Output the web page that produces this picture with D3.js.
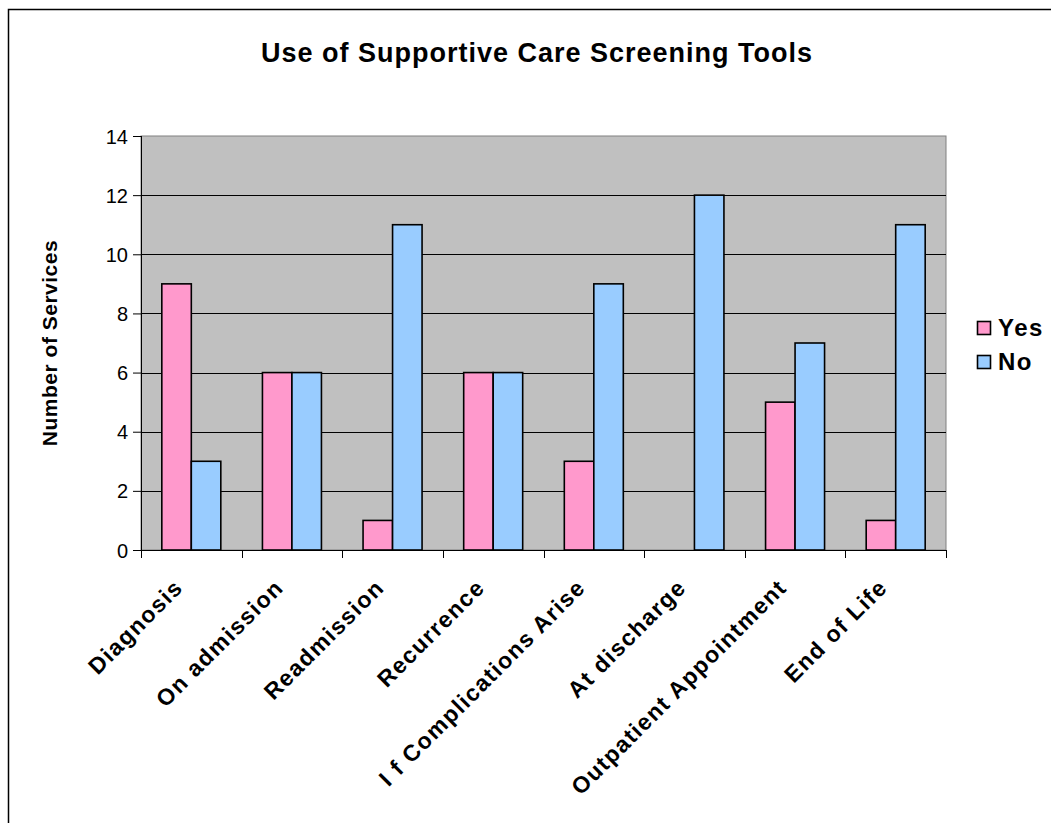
<!DOCTYPE html>
<html><head><meta charset="utf-8">
<script src="https://cdn.jsdelivr.net/npm/d3@7"></script>
<style>body{margin:0;background:#fff}svg{display:block;font-family:"Liberation Sans",Arial,sans-serif}</style>
</head><body><svg id="c" width="1051" height="823"></svg>
<script>
const categories = ["Diagnosis","On admission","Readmission","Recurrence","I f Complications Arise","At discharge","Outpatient Appointment","End of Life"];
const yesValues = [9,6,1,6,3,0,5,1];
const noValues = [3,6,11,6,9,12,7,11];
const seriesNames = ["Yes","No"];
const seriesColors = ["#ff99cc","#99ccff"];
const yTicks = [0,2,4,6,8,10,12,14];

const svg = d3.select("#c");
const L=141, R=946, T=136, B=550;

svg.append("rect").attr("x",8.5).attr("y",9.5).attr("width",1100).attr("height",900)
  .attr("fill","#fff").attr("stroke","#000").attr("stroke-width",1.5);

const x = d3.scaleBand().domain(categories).range([L,R]).paddingInner(0).paddingOuter(0);
const y = d3.scaleLinear().domain([0,14]).range([B,T]);

svg.append("rect").attr("x",L).attr("y",T).attr("width",R-L).attr("height",B-T)
  .attr("fill","#c0c0c0").attr("stroke","#808080").attr("stroke-width",1);

svg.append("g").selectAll("line").data(yTicks.filter(d=>d>0&&d<14)).join("line")
  .attr("x1",L).attr("x2",R).attr("y1",d=>Math.round(y(d))+0.5).attr("y2",d=>Math.round(y(d))+0.5)
  .attr("stroke","#000").attr("stroke-width",1);

const bw = 29.5;
const sub = d3.scaleBand().domain(seriesNames).range([0,bw*2]);
const data = categories.map((c,i)=>({c, vals:[yesValues[i], noValues[i]]}));
const g = svg.append("g");
data.forEach(d=>{
  const cx = x(d.c)+x.bandwidth()/2 - bw;
  d.vals.forEach((v,j)=>{
    if(v<=0) return;
    g.append("rect").attr("x",cx+sub(seriesNames[j])).attr("y",y(v)).attr("width",bw).attr("height",B-y(v))
      .attr("fill",seriesColors[j]).attr("stroke","#000").attr("stroke-width",1.6);
  });
});

// y axis
const ya = d3.axisLeft(y).tickValues(yTicks).tickSize(8).tickPadding(5).tickFormat(d3.format("d"));
const yg = svg.append("g").attr("transform",`translate(${L},0)`).call(ya);
yg.select(".domain").attr("stroke","#000").attr("d",`M0.5,${T}V${B}`);
yg.selectAll("text").attr("font-size",20).attr("fill","#000").attr("font-family","Liberation Sans, Arial").attr("dy","0.35em");

// x axis
const xg = svg.append("g").attr("transform",`translate(0,${B})`);
xg.append("line").attr("x1",L).attr("x2",R).attr("y1",0.5).attr("y2",0.5).attr("stroke","#000");
const bounds = categories.map(c=>x(c)).concat([R]);
xg.selectAll("line.t").data(bounds).join("line").attr("class","t")
  .attr("x1",d=>Math.round(d)+0.5).attr("x2",d=>Math.round(d)+0.5).attr("y1",0).attr("y2",8).attr("stroke","#000");
xg.selectAll("text").data(categories).join("text")
  .attr("transform",d=>`translate(${x(d)+x.bandwidth()/2-7},${39}) rotate(-45)`)
  .attr("text-anchor","end").attr("font-size",23).attr("letter-spacing",1.4).attr("font-weight","bold").text(d=>d);

// title
svg.append("text").attr("x",537).attr("y",62).attr("text-anchor","middle")
  .attr("font-size",27).attr("letter-spacing",1).attr("font-weight","bold").text("Use of Supportive Care Screening Tools");

// y title
svg.append("text").attr("transform",`translate(57,${(T+B)/2}) rotate(-90)`).attr("text-anchor","middle")
  .attr("font-size",21).attr("letter-spacing",0.5).attr("font-weight","bold").text("Number of Services");

// legend
const lg = svg.append("g");
seriesNames.forEach((s,i)=>{
  const yy = 321 + i*34;
  lg.append("rect").attr("x",977.5).attr("y",yy+0.5).attr("width",13).attr("height",13)
    .attr("fill",seriesColors[i]).attr("stroke","#000").attr("stroke-width",1.6);
  lg.append("text").attr("x",998).attr("y",yy+15).attr("font-size",24).attr("letter-spacing",1.5).attr("font-weight","bold").text(s);
});
</script></body></html>
